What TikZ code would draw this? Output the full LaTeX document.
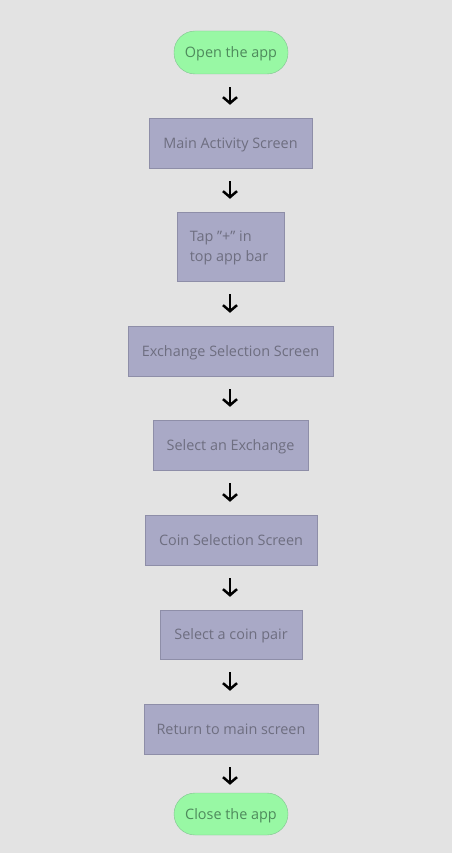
\documentclass[tikz,border=0pt]{standalone}
\usepackage{fontspec}
\setmainfont{Open Sans}
\usetikzlibrary{arrows.meta}
\definecolor{bg}{HTML}{E3E3E3}
\definecolor{boxfill}{HTML}{A9A9C6}
\definecolor{boxline}{HTML}{8E8EA8}
\definecolor{boxtext}{HTML}{6E6E80}
\definecolor{termfill}{HTML}{98F8A4}
\definecolor{termline}{HTML}{80C490}
\definecolor{termtext}{HTML}{4E8A5C}
\begin{document}
\begin{tikzpicture}[x=1pt,y=-1pt,
  stepbox/.style={draw=boxline,fill=boxfill,text=boxtext,rectangle,inner sep=0pt,text depth=0pt,font=\fontsize{14.4}{20}\selectfont},
  term/.style={draw=termline,fill=termfill,text=termtext,rounded corners=21pt,inner sep=0pt,text depth=0pt,font=\fontsize{14.4}{20}\selectfont},
  flow/.style={-{Straight Barb[length=6pt,width=14pt]},line width=2.5pt,black,shorten <=13pt,shorten >=13pt}]
\fill[bg] (0,0) rectangle (452,853);
\useasboundingbox (0,0) rectangle (452,853);
\node[term,minimum width=114pt,minimum height=43pt] (open) at (231,52.5) {Open the app};
\node[stepbox,minimum width=163pt,minimum height=50pt] (main) at (230.5,143) {Main Activity Screen};
\node[stepbox,minimum width=107pt,minimum height=69pt,align=left] (tap) at (230.5,246.5) {\hspace*{-3pt}Tap \symbol{34}+\symbol{34} in\\\hspace*{-3pt}top app bar};
\node[stepbox,minimum width=205pt,minimum height=50pt] (exsel) at (230.5,351) {Exchange Selection Screen};
\node[stepbox,minimum width=155pt,minimum height=50pt] (selex) at (230.5,445) {Select an Exchange};
\node[stepbox,minimum width=172pt,minimum height=50pt] (coin) at (231,540) {Coin Selection Screen};
\node[stepbox,minimum width=142pt,minimum height=49pt] (pair) at (231,634.5) {Select a coin pair};
\node[stepbox,minimum width=174pt,minimum height=50pt] (ret) at (231,729) {Return to main screen};
\node[term,minimum width=114pt,minimum height=42pt] (close) at (231,814) {Close the app};
\coordinate (a1) at (230,74);
\draw[flow] (open.south -| a1) -- (main.north -| a1);
\draw[flow] (main.south -| a1) -- (tap.north -| a1);
\draw[flow] (tap.south -| a1) -- (exsel.north -| a1);
\draw[flow] (exsel.south -| a1) -- (selex.north -| a1);
\draw[flow] (selex.south -| a1) -- (coin.north -| a1);
\draw[flow] (coin.south -| a1) -- (pair.north -| a1);
\draw[flow] (pair.south -| a1) -- (ret.north -| a1);
\draw[flow,shorten >=8pt] (ret.south -| a1) -- (close.north -| a1);
\end{tikzpicture}
\end{document}
